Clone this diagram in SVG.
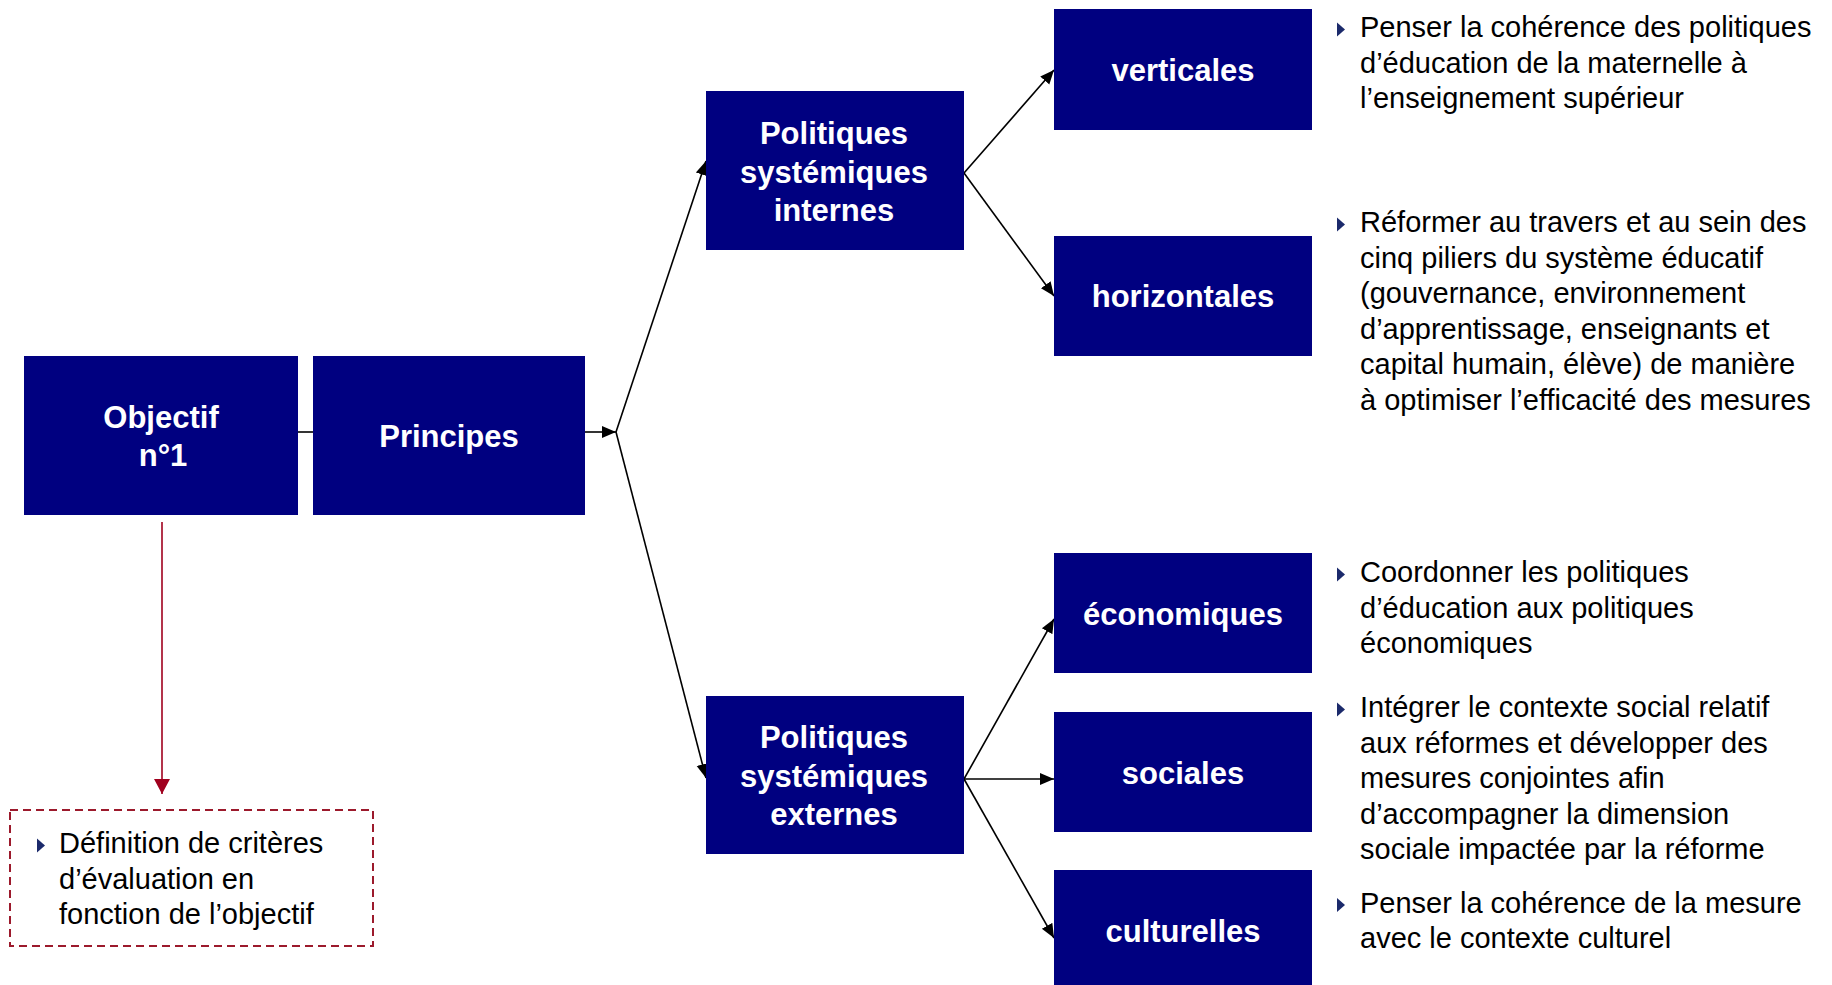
<svg xmlns="http://www.w3.org/2000/svg" xmlns:xlink="http://www.w3.org/1999/xlink" width="1832" height="985" viewBox="0 0 1832 985">
  <style>
    .box { fill: #000080; }
    .lbl { fill: #ffffff; font-family: "Liberation Sans", Arial, sans-serif; font-weight: bold; font-size: 31px; text-anchor: middle; }
    .note { fill: #000000; font-family: "Liberation Sans", Arial, sans-serif; font-size: 29px; }
    .link { stroke: #000000; stroke-width: 1.6; fill: none; }
    .redlink { stroke: #a0001e; stroke-width: 1.6; fill: none; }
    .bullet { fill: #1b2a6b; }
  </style>
  <defs>
    <marker id="arrow" markerUnits="userSpaceOnUse" markerWidth="14" markerHeight="14" viewBox="0 0 14 12" refX="14" refY="6" orient="auto">
      <path d="M0,0 L14,6 L0,12 Z" fill="#000000"/>
    </marker>
    <marker id="arrowRed" markerUnits="userSpaceOnUse" markerWidth="16" markerHeight="16" viewBox="0 0 16 16" refX="15" refY="8" orient="auto">
      <path d="M0,0 L15,8 L0,16 Z" fill="#a0001e"/>
    </marker>
    <polygon id="tri" class="bullet" points="0,-14.5 8,-7.5 0,-0.5"/>
  </defs>

  <rect width="1832" height="985" fill="#ffffff"/>

  <!-- connectors -->
  <g id="connectors">
    <line class="link" x1="298" y1="432" x2="313" y2="432"/>
    <line class="link" x1="585" y1="432" x2="616" y2="432" marker-end="url(#arrow)"/>
    <line class="link" x1="616" y1="432" x2="706" y2="161" marker-end="url(#arrow)"/>
    <line class="link" x1="616" y1="432" x2="706" y2="778" marker-end="url(#arrow)"/>
    <line class="link" x1="964" y1="173" x2="1054" y2="70" marker-end="url(#arrow)"/>
    <line class="link" x1="964" y1="173" x2="1054" y2="296" marker-end="url(#arrow)"/>
    <line class="link" x1="964" y1="779" x2="1054" y2="619" marker-end="url(#arrow)"/>
    <line class="link" x1="964" y1="779" x2="1054" y2="779" marker-end="url(#arrow)"/>
    <line class="link" x1="964" y1="779" x2="1054" y2="938" marker-end="url(#arrow)"/>
    <line class="redlink" x1="162" y1="522" x2="162" y2="794" marker-end="url(#arrowRed)"/>
  </g>

  <g id="objectif">
    <rect class="box" x="24" y="356" width="274" height="159"/>
    <text class="lbl" x="161" y="428">Objectif</text>
    <text class="lbl" x="163" y="466">n°1</text>
  </g>

  <g id="principes">
    <rect class="box" x="313" y="356" width="272" height="159"/>
    <text class="lbl" x="449" y="447">Principes</text>
  </g>

  <g id="internes">
    <rect class="box" x="706" y="91" width="258" height="159"/>
    <text class="lbl" x="834" y="144">Politiques</text>
    <text class="lbl" x="834" y="182.5">systémiques</text>
    <text class="lbl" x="834" y="221">internes</text>
  </g>

  <g id="externes">
    <rect class="box" x="706" y="696" width="258" height="158"/>
    <text class="lbl" x="834" y="748">Politiques</text>
    <text class="lbl" x="834" y="786.5">systémiques</text>
    <text class="lbl" x="834" y="825">externes</text>
  </g>

  <g id="verticales">
    <rect class="box" x="1054" y="9" width="258" height="121"/>
    <text class="lbl" x="1183" y="80.5">verticales</text>
  </g>

  <g id="horizontales">
    <rect class="box" x="1054" y="236" width="258" height="120"/>
    <text class="lbl" x="1183" y="307">horizontales</text>
  </g>

  <g id="economiques">
    <rect class="box" x="1054" y="553" width="258" height="120"/>
    <text class="lbl" x="1183" y="625">économiques</text>
  </g>

  <g id="sociales">
    <rect class="box" x="1054" y="712" width="258" height="120"/>
    <text class="lbl" x="1183" y="784">sociales</text>
  </g>

  <g id="culturelles">
    <rect class="box" x="1054" y="870" width="258" height="121"/>
    <text class="lbl" x="1183" y="942">culturelles</text>
  </g>

  <!-- evaluation criteria note -->
  <g id="criteres">
    <rect x="10" y="810" width="363" height="136" fill="none" stroke="#9c1a2c" stroke-width="2" stroke-dasharray="8,5"/>
    <use xlink:href="#tri" transform="translate(37,853)"/>
    <text class="note" x="59" y="853">Définition de critères</text>
    <text class="note" x="59" y="888.5">d’évaluation en</text>
    <text class="note" x="59" y="924">fonction de l’objectif</text>
  </g>

  <!-- descriptions -->
  <g id="desc-verticales">
    <use xlink:href="#tri" transform="translate(1337,37)"/>
    <text class="note" x="1360" y="37">Penser la cohérence des politiques</text>
    <text class="note" x="1360" y="72.5">d’éducation de la maternelle à</text>
    <text class="note" x="1360" y="108">l’enseignement supérieur</text>
  </g>

  <g id="desc-horizontales">
    <use xlink:href="#tri" transform="translate(1337,232)"/>
    <text class="note" x="1360" y="232">Réformer au travers et au sein des</text>
    <text class="note" x="1360" y="267.5">cinq piliers du système éducatif</text>
    <text class="note" x="1360" y="303">(gouvernance, environnement</text>
    <text class="note" x="1360" y="338.5">d’apprentissage, enseignants et</text>
    <text class="note" x="1360" y="374">capital humain, élève) de manière</text>
    <text class="note" x="1360" y="409.5">à optimiser l’efficacité des mesures</text>
  </g>

  <g id="desc-economiques">
    <use xlink:href="#tri" transform="translate(1337,582)"/>
    <text class="note" x="1360" y="582">Coordonner les politiques</text>
    <text class="note" x="1360" y="617.5">d’éducation aux politiques</text>
    <text class="note" x="1360" y="653">économiques</text>
  </g>

  <g id="desc-sociales">
    <use xlink:href="#tri" transform="translate(1337,717)"/>
    <text class="note" x="1360" y="717">Intégrer le contexte social relatif</text>
    <text class="note" x="1360" y="752.5">aux réformes et développer des</text>
    <text class="note" x="1360" y="788">mesures conjointes afin</text>
    <text class="note" x="1360" y="823.5">d’accompagner la dimension</text>
    <text class="note" x="1360" y="859">sociale impactée par la réforme</text>
  </g>

  <g id="desc-culturelles">
    <use xlink:href="#tri" transform="translate(1337,912.5)"/>
    <text class="note" x="1360" y="912.5">Penser la cohérence de la mesure</text>
    <text class="note" x="1360" y="948">avec le contexte culturel</text>
  </g>
</svg>
